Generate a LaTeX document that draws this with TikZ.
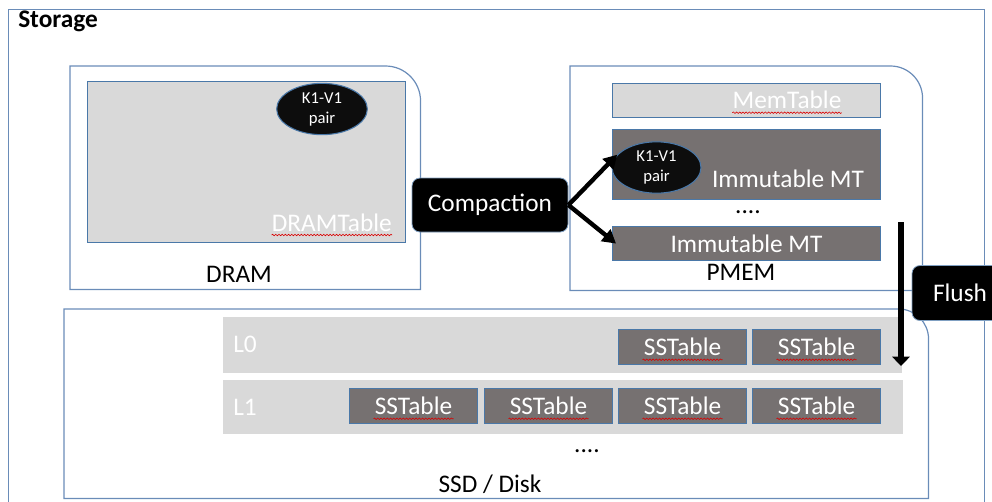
\documentclass[tikz,border=0pt]{standalone}
\usepackage{fontspec}
\setmainfont{Carlito}
\usetikzlibrary{arrows.meta,shapes.geometric,decorations.pathmorphing,calc}
\definecolor{lightfill}{HTML}{D9D9D9}
\definecolor{darkfill}{HTML}{767171}
\definecolor{frameblue}{HTML}{6A8CB8}
\definecolor{edgeblue}{HTML}{4A78A8}

\begin{document}
\begin{tikzpicture}[x=0.75pt,y=0.75pt,
  every node/.style={font=\fontsize{19}{22}\selectfont, inner sep=0pt},
  frame/.style={draw=frameblue, line width=0.9pt},
  region/.style={rectangle, draw=none, anchor=north west},
  lightbox/.style={rectangle, fill=lightfill, draw=edgeblue, line width=0.8pt, anchor=north west},
  darkbox/.style={rectangle, fill=darkfill, draw=edgeblue, line width=0.8pt, text=white, anchor=north west},
  sst/.style={darkbox, minimum width=96pt, minimum height=26.25pt},
  band/.style={rectangle, fill=lightfill, draw=white, line width=0.8pt, anchor=north west},
  kv/.style={ellipse, fill=black!95, draw=edgeblue, line width=0.8pt, text=white, align=center,
    font=\fontsize{12.5}{15}\selectfont, minimum width=68pt, minimum height=38.5pt},
  action/.style={rectangle, rounded corners=6pt, fill=black, draw=edgeblue!70, line width=0.6pt, text=white},
  push/.style={line width=3.3pt, -{Triangle[length=10pt,width=11pt]}},
  squiggle/.style={draw=red!85!black, line width=0.45pt, decorate,
    decoration={snake, amplitude=0.55pt, segment length=2.4pt}},
  whitetext/.style={text=white},
]
\useasboundingbox (0,0) rectangle (992,-501);

% outer storage frame
\node[region, draw=frameblue, line width=0.9pt, minimum width=732pt, minimum height=372pt] (storage) at (8,-9) {};
\node[anchor=base west, font=\fontsize{19}{22}\selectfont\bfseries] (storagelbl) at (18,-27) {Storage};

% regions with one rounded corner
\node[region, minimum width=262.5pt, minimum height=167.25pt] (dram) at (70,-66) {};
\node[region, minimum width=264pt, minimum height=168pt] (pmem) at (570,-66) {};
\node[region, minimum width=648pt, minimum height=141.75pt] (ssd) at (64,-309) {};
\draw[frame] (dram.south west) -- (dram.north west) -- ($(dram.north east)+(-35,0)$)
  arc[start angle=90, end angle=0, radius=35] -- (dram.south east) -- cycle;
\draw[frame] (pmem.south west) -- (pmem.north west) -- ($(pmem.north east)+(-32,0)$)
  arc[start angle=90, end angle=0, radius=32] -- (pmem.south east) -- cycle;
\draw[frame] (ssd.south west) -- (ssd.north west) -- ($(ssd.north east)+(-30,0)$)
  arc[start angle=90, end angle=0, radius=30] -- (ssd.south east) -- cycle;

% DRAM contents
\node[lightbox, minimum width=238.5pt, minimum height=120.75pt] (dramtable) at (87,-81) {};
\node[whitetext, anchor=base east] (dtlbl) at (392,-231) {DRAMTable};
\draw[squiggle] ([yshift=-3pt]dtlbl.base west) -- ([yshift=-3pt]dtlbl.base east);
\node[kv] (kv1) at (322,-109) {K1-V1\\pair};
\node[anchor=base] (dramlbl) at (239,-282) {DRAM};

% PMEM contents
\node[lightbox, minimum width=201pt, minimum height=25.5pt] (memtable) at (612,-83) {};
\node[whitetext] (mtlbl) at (787,-100) {MemTable};
\draw[squiggle] ([yshift=-3pt]mtlbl.base west) -- ([yshift=-3pt]mtlbl.base east);
\node[darkbox, minimum width=201pt, minimum height=52.5pt] (imm1) at (612,-129) {};
\node[whitetext, anchor=base] (imm1lbl) at (788,-187) {Immutable MT};
\node[kv, minimum width=66.75pt] (kv2) at (656.5,-167.5) {K1-V1\\pair};
\node[anchor=base] (pdots) at (748,-213) {....};
\node[darkbox, minimum width=201pt, minimum height=25.5pt] (imm2) at (612,-226) {Immutable MT};
\node[anchor=base] (pmemlbl) at (741,-280) {PMEM};

% compaction step
\node[action, minimum width=117pt, minimum height=40.5pt] (compaction) at (490,-205) {Compaction};
\draw[push] (compaction.east) -- (kv2.162);
\draw[push] (compaction.east) -- ([xshift=3pt]imm2.west);

% SSD levels
\node[band, minimum width=510pt, minimum height=42.75pt] (l0) at (222,-316) {};
\node[band, minimum width=510.75pt, minimum height=41.25pt] (l1) at (222,-379) {};
\node[whitetext, anchor=base west] (l0lbl) at (233,-352) {L0};
\node[whitetext, anchor=base west] (l1lbl) at (233,-415) {L1};

\node[sst] (s01) at (618,-329) {SSTable};
\node[sst] (s02) at (752,-329) {SSTable};
\node[sst] (s11) at (349,-388) {SSTable};
\node[sst] (s12) at (484,-388) {SSTable};
\node[sst] (s13) at (618,-388) {SSTable};
\node[sst] (s14) at (752,-388) {SSTable};
\foreach \s in {s01,s02,s11,s12,s13,s14}
  \draw[squiggle] ([shift={(-30pt,-3pt)}]\s.base) -- ([shift={(30pt,-3pt)}]\s.base);

\node[anchor=base] (sdots) at (587,-452) {....};
\node[anchor=base] (ssdlbl) at (490,-492) {SSD / Disk};

% flush step
\coordinate (flushfrom) at (901,-222);
\coordinate (flushto) at (901,-366);
\draw[line width=3.8pt, -{Triangle[length=7pt,width=13pt]}] (flushfrom) -- (flushto);
\node[action, minimum width=72pt, minimum height=41.25pt] (flush) at (960,-293) {Flush};
\end{tikzpicture}
\end{document}
